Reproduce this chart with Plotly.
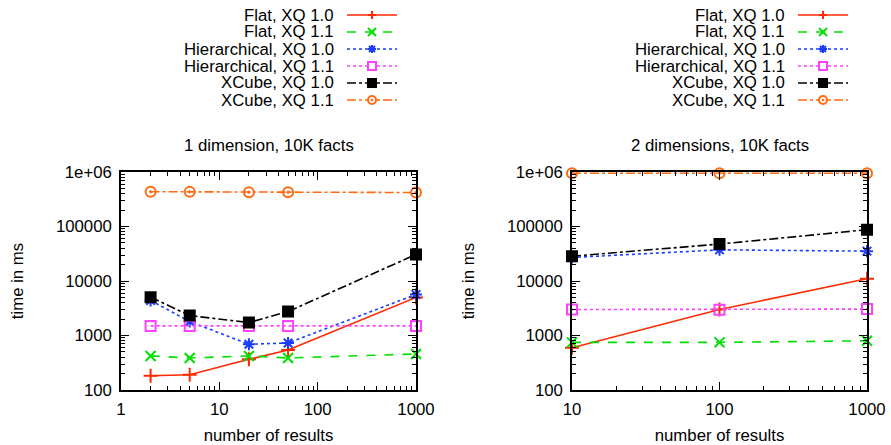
import plotly.graph_objects as go

# ---- data ----
series_names = ["Flat, XQ 1.0", "Flat, XQ 1.1", "Hierarchical, XQ 1.0",
                "Hierarchical, XQ 1.1", "XCube, XQ 1.0", "XCube, XQ 1.1"]

x_1dim = [2, 5, 20, 50, 1000]
flat10_1dim = [183, 191, 366, 543, 4980]
flat11_1dim = [422, 387, 422, 387, 459]
hier10_1dim = [4400, 1800, 690, 730, 5650]
hier11_1dim = [1500, 1500, 1500, 1500, 1500]
xcube10_1dim = [5050, 2320, 1730, 2750, 30700]
xcube11_1dim = [435000, 432000, 425000, 425000, 420000]

x_2dim = [10, 100, 1000]
flat10_2dim = [596, 3000, 11000]
flat11_2dim = [748, 748, 800]
hier10_2dim = [27000, 37300, 35300]
hier11_2dim = [3000, 2980, 3050]
xcube10_2dim = [28500, 47600, 87500]
xcube11_2dim = [950000, 950000, 950000]

y_tickvals = [100, 1000, 10000, 100000, 1000000]
y_ticktext = ["100", "1000", "10000", "100000", "1e+06"]
x1_tickvals = [1, 10, 100, 1000]
x2_tickvals = [10, 100, 1000]

# ---- styles ----
colors = ["#ff2a00", "#00e000", "#1a3cff", "#ff40ff", "#000000", "#ff6a10"]
dashes = ["solid", "dash", "dot", "dot", "dashdot", "dashdot"]
symbols = ["cross-thin-open", "x-thin-open", "asterisk-open", "square-open", "square", "circle-open-dot"]
msizes = [10, 10, 10, 10, 10, 10]
legend_kinds = ["plus", "x", "star", "sqopen", "sqfill", "circ"]

FONT = "Liberation Sans, Arial, Helvetica, sans-serif"
FS = 16.8

W, H = 891, 445
ml, mr, mt, mb = 121, 24, 172, 55
pw = W - ml - mr
ph = H - mt - mb


def px_x(p):
    return (p - ml) / pw


def px_y(p):
    return 1 + (mt - p) / ph


fig = go.Figure()

data1 = [flat10_1dim, flat11_1dim, hier10_1dim, hier11_1dim, xcube10_1dim, xcube11_1dim]
data2 = [flat10_2dim, flat11_2dim, hier10_2dim, hier11_2dim, xcube10_2dim, xcube11_2dim]

for i, name in enumerate(series_names):
    mk = dict(symbol=symbols[i], size=msizes[i], color=colors[i],
              line=dict(width=2, color=colors[i]))
    fig.add_trace(go.Scatter(x=x_1dim, y=data1[i], name=name, mode="lines+markers",
                             line=dict(color=colors[i], dash=dashes[i], width=1.6),
                             marker=mk, xaxis="x", yaxis="y", showlegend=False,
                             cliponaxis=False))
    fig.add_trace(go.Scatter(x=x_2dim, y=data2[i], name=name, mode="lines+markers",
                             line=dict(color=colors[i], dash=dashes[i], width=1.6),
                             marker=mk, xaxis="x2", yaxis="y2", showlegend=False,
                             cliponaxis=False))

# ---- gnuplot-style keys (text right-aligned, sample to the right) ----
shapes = []
annotations = []


def seg(x0, y0, x1, y1, color, width=1.6, dash="solid"):
    shapes.append(dict(type="line", xref="paper", yref="paper",
                       x0=px_x(x0), y0=px_y(y0), x1=px_x(x1), y1=px_y(y1),
                       line=dict(color=color, width=width, dash=dash)))


def key_marker(kind, cx, cy, color):
    r = 4
    if kind == "plus":
        seg(cx - r, cy, cx + r, cy, color, 2)
        seg(cx, cy - r, cx, cy + r, color, 2)
    elif kind == "x":
        seg(cx - r, cy - r, cx + r, cy + r, color, 2)
        seg(cx - r, cy + r, cx + r, cy - r, color, 2)
    elif kind == "star":
        seg(cx - r, cy, cx + r, cy, color, 2)
        seg(cx, cy - r, cx, cy + r, color, 2)
        seg(cx - 3, cy - 3, cx + 3, cy + 3, color, 2)
        seg(cx - 3, cy + 3, cx + 3, cy - 3, color, 2)
    elif kind in ("sqopen", "sqfill", "circ"):
        shapes.append(dict(type="circle" if kind == "circ" else "rect",
                           xref="paper", yref="paper",
                           x0=px_x(cx - r), x1=px_x(cx + r),
                           y0=px_y(cy - r), y1=px_y(cy + r),
                           line=dict(color=color, width=2),
                           fillcolor=color if kind == "sqfill" else "white"))
        if kind == "circ":
            shapes.append(dict(type="circle", xref="paper", yref="paper",
                               x0=px_x(cx - 1), x1=px_x(cx + 1),
                               y0=px_y(cy - 1), y1=px_y(cy + 1),
                               line=dict(color=color, width=1), fillcolor=color))


def add_key(text_right, line_x0, line_x1):
    for k, name in enumerate(series_names):
        cy = 15 + 17 * k
        annotations.append(dict(text=name, x=px_x(text_right), y=px_y(cy),
                                xref="paper", yref="paper", xanchor="right",
                                yanchor="middle", showarrow=False,
                                font=dict(size=FS)))
        seg(line_x0, cy, line_x1, cy, colors[k], 1.6, dashes[k])
        key_marker(legend_kinds[k], (line_x0 + line_x1) / 2, cy, colors[k])


add_key(336, 347, 397)
add_key(787, 798, 848)

annotations += [
    dict(text="1 dimension, 10K facts", x=px_x((121 + 416) / 2), y=px_y(145),
         xref="paper", yref="paper", xanchor="center", yanchor="middle",
         showarrow=False, font=dict(size=FS)),
    dict(text="2 dimensions, 10K facts", x=px_x((572 + 867) / 2), y=px_y(145),
         xref="paper", yref="paper", xanchor="center", yanchor="middle",
         showarrow=False, font=dict(size=FS)),
]

axis_common = dict(type="log", showgrid=False, zeroline=False, showline=True,
                   linecolor="black", linewidth=1.5, mirror="allticks",
                   ticks="inside", ticklen=8, tickwidth=1, tickcolor="black",
                   automargin=False,
                   minor=dict(ticks="inside", dtick="D1", ticklen=4, tickwidth=1,
                              tickcolor="black", showgrid=False),
                   tickfont=dict(family=FONT, size=FS, color="black"))

fig.update_layout(
    width=W, height=H,
    margin=dict(l=ml, r=mr, t=mt, b=mb, autoexpand=False),
    plot_bgcolor="white", paper_bgcolor="white",
    font=dict(family=FONT, size=FS, color="black"),
    showlegend=False,
    xaxis=dict(domain=[0, px_x(416)], range=[0, 3.0], tickvals=x1_tickvals,
               ticktext=[str(v) for v in x1_tickvals], anchor="y",
               ticklabelstandoff=3,
               title=dict(text="number of results", font=dict(size=FS), standoff=13),
               **axis_common),
    yaxis=dict(domain=[0, 1], range=[2, 6], tickvals=y_tickvals, ticktext=y_ticktext,
               anchor="x", ticklabelstandoff=4,
               title=dict(text="time in ms", font=dict(size=FS), standoff=28),
               **axis_common),
    xaxis2=dict(domain=[px_x(572), 1], range=[1, 3.0], tickvals=x2_tickvals,
                ticktext=[str(v) for v in x2_tickvals], anchor="y2",
                ticklabelstandoff=3,
                title=dict(text="number of results", font=dict(size=FS), standoff=13),
                **axis_common),
    yaxis2=dict(domain=[0, 1], range=[2, 6], tickvals=y_tickvals, ticktext=y_ticktext,
                anchor="x2", ticklabelstandoff=4,
                title=dict(text="time in ms", font=dict(size=FS), standoff=28),
                **axis_common),
    shapes=shapes,
    annotations=annotations,
)

fig.write_html("out.html", config={"displayModeBar": False},
               post_script="document.body.style.margin='0';document.body.style.overflow='hidden';")
